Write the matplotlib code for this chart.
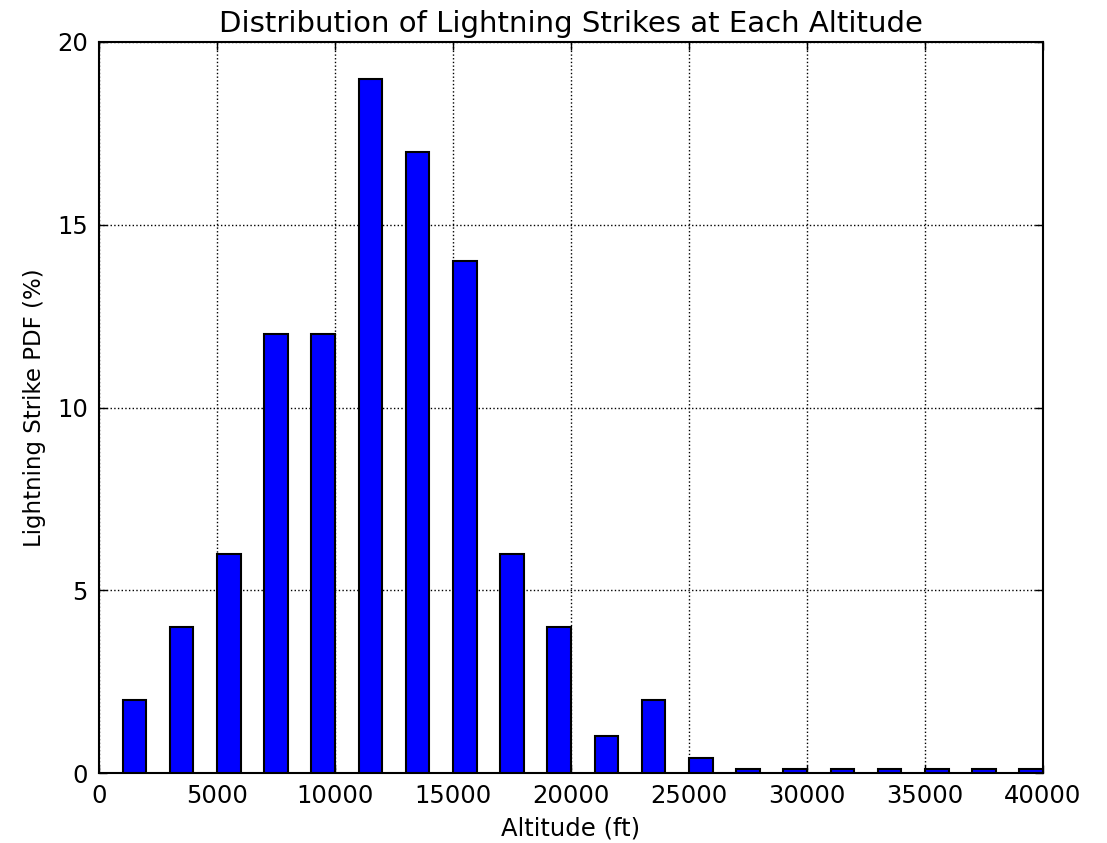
import matplotlib
matplotlib.use("Agg")
import matplotlib.pyplot as plt

# bin left edges (ft) and strike pdf (%)
altitude_bins = [1000, 3000, 5000, 7000, 9000, 11000, 13000, 15000, 17000, 19000,
                 21000, 23000, 25000, 27000, 29000, 31000, 33000, 35000, 37000, 39000]
strike_pdf = [2, 4, 6, 12, 12, 19, 17, 14, 6, 4,
              1, 2, 0.4, 0.1, 0.1, 0.1, 0.1, 0.1, 0.1, 0.1]
x_ticks = [0, 5000, 10000, 15000, 20000, 25000, 30000, 35000, 40000]
y_ticks = [0, 5, 10, 15, 20]

fig = plt.figure(figsize=(11.07, 8.43), dpi=100, facecolor="white")
ax = fig.add_axes([0.0894, 0.083, 0.8528, 0.8672])

ax.bar(altitude_bins, strike_pdf, width=1000, align="edge",
       color="#0000ff", edgecolor="black", linewidth=1.5, zorder=3)

ax.set_xlim(0, 40000)
ax.set_ylim(0, 20)
ax.set_xticks(x_ticks)
ax.set_yticks(y_ticks)
ax.grid(True, linestyle=":", color="black", linewidth=1, zorder=0)
ax.set_axisbelow(True)
ax.tick_params(direction="in", length=6, width=1, labelsize=17.5, pad=8,
               top=True, right=True)
for s in ax.spines.values():
    s.set_linewidth(1.5)

ax.set_title("Distribution of Lightning Strikes at Each Altitude", fontsize=21, pad=7)
ax.set_xlabel("Altitude (ft)", fontsize=17.5, labelpad=6)
ax.set_ylabel("Lightning Strike PDF (%)", fontsize=16.5, labelpad=8)

fig.savefig("out.png", dpi=100, facecolor="white")
